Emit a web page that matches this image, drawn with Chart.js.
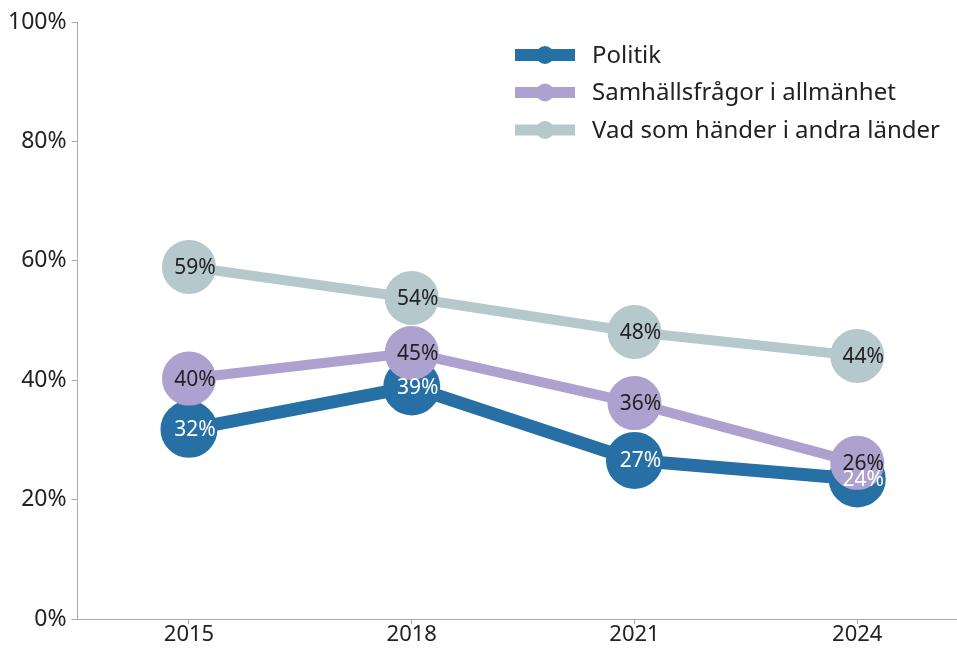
<!DOCTYPE html>
<html>
<head>
<meta charset="utf-8">
<script src="https://cdn.jsdelivr.net/npm/chart.js@4"></script>
<style>
  html, body { margin: 0; padding: 0; background: #fff; overflow: hidden; }
  #wrap { width: 957px; height: 648px; }
</style>
</head>
<body>
<div id="wrap"><canvas id="myChart"></canvas></div>
<script>
const years = [2015, 2018, 2021, 2024];
const yTicks = [0, 20, 40, 60, 80, 100];
const seriesNames = ['Politik', 'Samhällsfrågor i allmänhet', 'Vad som händer i andra länder'];
const politik = [31.8, 38.9, 26.6, 23.5];
const samhalle = [40.3, 44.6, 36.2, 26.2];
const andraLander = [59.0, 53.8, 48.1, 44.1];
const colors = ['#2670a5', '#ada2cf', '#b5c8cc'];
const labelColors = ['#ffffff', '#222222', '#222222'];

const ctx = document.getElementById('myChart');
const fontFam = '"Noto Sans", sans-serif';

function toPoints(arr) {
    return arr.map((v, i) => ({ x: years[i], y: v }));
}

// value labels on top of the circles
const valueLabels = {
    id: 'valueLabels',
    afterDatasetsDraw(chart) {
        const c = chart.ctx;
        c.save();
        c.font = '21px ' + fontFam;
        c.textAlign = 'center';
        c.textBaseline = 'middle';
        chart.data.datasets.forEach((ds, i) => {
            const meta = chart.getDatasetMeta(i);
            meta.data.forEach((pt, j) => {
                c.fillStyle = labelColors[i];
                c.fillText(Math.round(ds.data[j].y) + '%', pt.x + 6, pt.y + 1);
            });
        });
        c.restore();
    }
};

// legend drawn inside the plot area
const insideLegend = {
    id: 'insideLegend',
    afterDraw(chart) {
        const c = chart.ctx;
        c.save();
        seriesNames.forEach((name, i) => {
            const y = 55 + i * 37.5;
            c.strokeStyle = colors[i];
            c.lineWidth = i === 0 ? 12 : 11;
            c.beginPath();
            c.moveTo(515, y);
            c.lineTo(575, y);
            c.stroke();
            c.fillStyle = colors[i];
            c.beginPath();
            c.arc(545, y, 9, 0, Math.PI * 2);
            c.fill();
            c.fillStyle = '#222';
            c.font = '24px ' + fontFam;
            c.textBaseline = 'middle';
            c.fillText(name, 592, y + 1);
        });
        c.restore();
    }
};

new Chart(ctx, {
    type: 'line',
    data: {
        datasets: [
            { label: seriesNames[0], data: toPoints(politik), borderColor: colors[0], backgroundColor: colors[0], borderWidth: 13, order: 1 },
            { label: seriesNames[1], data: toPoints(samhalle), borderColor: colors[1], backgroundColor: colors[1], borderWidth: 10, order: 0 },
            { label: seriesNames[2], data: toPoints(andraLander), borderColor: colors[2], backgroundColor: colors[2], borderWidth: 10, order: 2 }
        ]
    },
    options: {
        responsive: true,
        maintainAspectRatio: false,
        animation: false,
        layout: { autoPadding: false, padding: { top: 22, right: 1, bottom: 3, left: 3 } },
        elements: {
            point: { radius: 22, hoverRadius: 22, borderWidth: 0 },
            line: { tension: 0 }
        },
        plugins: {
            legend: { display: false },
            tooltip: { enabled: false }
        },
        scales: {
            x: {
                type: 'linear',
                min: 2013.5,
                max: 2025.33,
                afterBuildTicks: (axis) => { axis.ticks = years.map(v => ({ value: v })); },
                grid: { display: true, drawOnChartArea: false, drawTicks: true, tickLength: 5, color: '#aaaaaa' },
                border: { color: '#aaaaaa', width: 1 },
                ticks: {
                    color: '#222',
                    font: { family: fontFam, size: 22, lineHeight: 0.85 },
                    padding: 1,
                    maxRotation: 0,
                    callback: (v) => String(v)
                }
            },
            y: {
                min: 0,
                max: 100,
                afterBuildTicks: (axis) => { axis.ticks = yTicks.map(v => ({ value: v })); },
                grid: { display: true, drawOnChartArea: false, drawTicks: true, tickLength: 6, color: '#aaaaaa' },
                border: { color: '#aaaaaa', width: 1 },
                ticks: {
                    color: '#222',
                    font: { family: fontFam, size: 23 },
                    padding: 5,
                    callback: (v) => v + '%'
                }
            }
        }
    },
    plugins: [valueLabels, insideLegend]
});
</script>
</body>
</html>
